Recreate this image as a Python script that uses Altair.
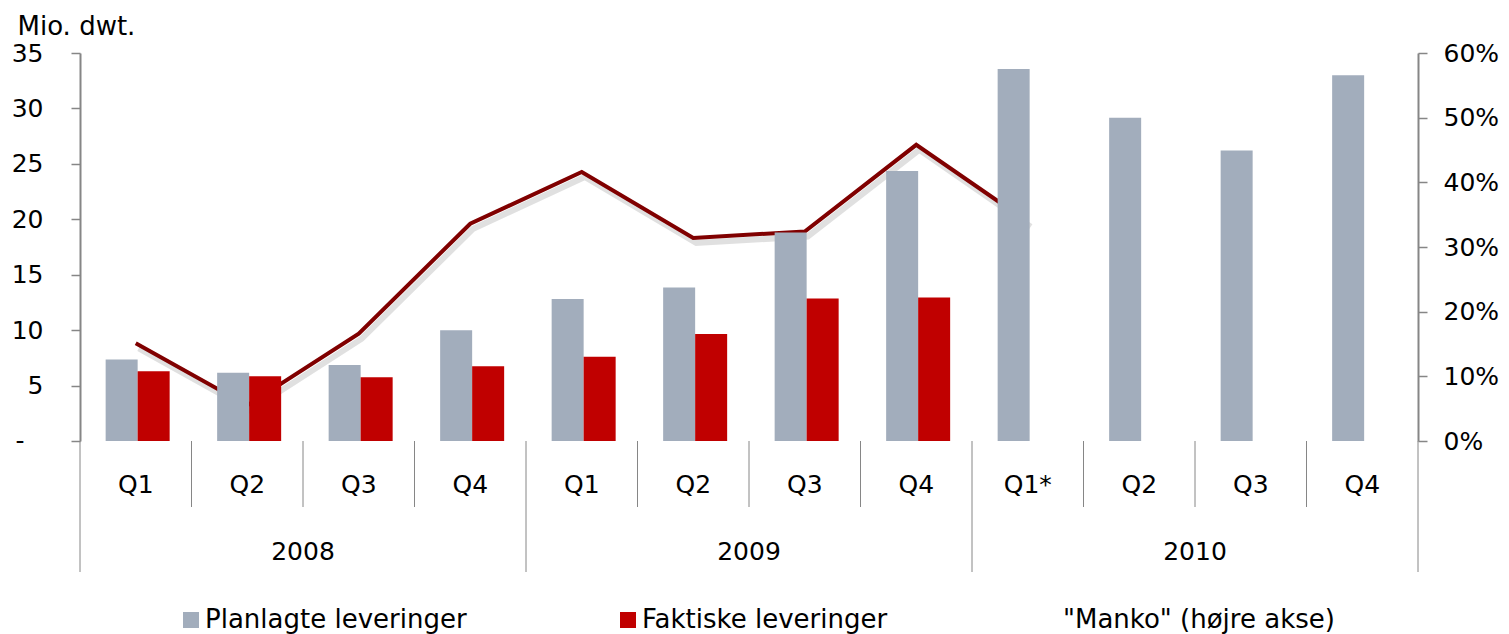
import altair as alt
import pandas as pd

# ---- data ----
quarters = ["Q1", "Q2", "Q3", "Q4", "Q1", "Q2", "Q3", "Q4", "Q1*", "Q2", "Q3", "Q4"]
years = ["2008", "2009", "2010"]
planned = [7.35, 6.15, 6.85, 10.0, 12.8, 13.85, 18.8, 24.35, 33.55, 29.15, 26.2, 33.0]
actual = [6.3, 5.85, 5.75, 6.75, 7.6, 9.65, 12.85, 12.95]
manko_pct = [15.1, 5.5, 16.6, 33.6, 41.6, 31.4, 32.4, 45.8, 33.9]
zero_label = ["-"]

S_PLAN = "Planlagte leveringer"
S_ACT = "Faktiske leveringer"
S_MANKO = '"Manko" (højre akse)'

GREY = "#A2ADBC"
RED = "#C00000"
LINE = "#800000"
AXIS = "#868686"
FONT = "DejaVu Sans"

W, H = 1338, 388

bars_rows = [{"idx": i, "series": S_PLAN, "value": v} for i, v in enumerate(planned)]
bars_rows += [{"idx": i, "series": S_ACT, "value": v} for i, v in enumerate(actual)]
bars_df = pd.DataFrame(bars_rows)

line_df = pd.DataFrame({"idx": list(range(len(manko_pct))),
                        "manko": [m / 100 for m in manko_pct]})

qlab_df = pd.DataFrame({"idx": list(range(12)), "q": quarters})
year_df = pd.DataFrame({"idx": [1, 5, 9], "year": years})
short_sep = pd.DataFrame({"idx": [i for i in range(12) if i % 4 != 0]})
long_sep = pd.DataFrame({"idx": [0, 4, 8]})
end_sep = pd.DataFrame({"idx": [11]})
zero_df = pd.DataFrame({"label": zero_label})

xscale = alt.Scale(paddingInner=0, paddingOuter=0)
xaxis = alt.Axis(labels=False, ticks=False, title=None, grid=False,
                 domainColor=AXIS, domainWidth=2)


def X(**kw):
    return alt.X("idx:O", scale=xscale, axis=None, **kw)


right_axis = alt.Axis(orient="right", format=".0%", values=[0, 0.1, 0.2, 0.3, 0.4, 0.5, 0.6],
                      title=None, grid=False, domainColor=AXIS, domainWidth=2,
                      tickColor=AXIS, tickWidth=1.5, tickSize=9, labelPadding=16,
                      labelFontSize=25, labelFont=FONT, labelColor="#000")
rscale = alt.Scale(domain=[0, 0.6], nice=False, zero=True)

shadow = alt.Chart(line_df).mark_line(color="#000000", opacity=0.12, strokeWidth=6,
                                      xOffset=3, yOffset=5).encode(
    x=X(), y=alt.Y("manko:Q", scale=rscale, axis=right_axis))
line = alt.Chart(line_df).mark_line(color=LINE, strokeWidth=4).encode(
    x=X(), y=alt.Y("manko:Q", scale=rscale, axis=right_axis))
line_layer = alt.layer(shadow, line)

left_axis = alt.Axis(orient="left", values=[0, 5, 10, 15, 20, 25, 30, 35],
                     labelExpr="datum.value == 0 ? '' : datum.label",
                     title="Mio. dwt.", titleAngle=0, titleAlign="left", titleBaseline="alphabetic",
                     titleX=-63, titleY=-19, titleFontSize=26, titleFont=FONT,
                     titleFontWeight="normal", titleColor="#000",
                     grid=False, domainColor=AXIS, domainWidth=2,
                     tickColor=AXIS, tickWidth=1.5, tickSize=9, labelPadding=28,
                     labelFontSize=25, labelFont=FONT, labelColor="#000")

bars = alt.Chart(bars_df).mark_bar().encode(
    x=alt.X("idx:O", scale=xscale, axis=xaxis),
    xOffset=alt.XOffset("series:N", sort=[S_PLAN, S_ACT],
                        scale=alt.Scale(domain=[S_PLAN, S_ACT], paddingInner=0,
                                        paddingOuter=0.742, align=0.54)),
    y=alt.Y("value:Q", scale=alt.Scale(domain=[0, 35], nice=False), axis=left_axis),
    color=alt.Color("series:N",
                    scale=alt.Scale(domain=[S_PLAN, S_ACT, S_MANKO],
                                    range=[GREY, RED, "#ffffff"]),
                    legend=alt.Legend(orient="none", legendX=98, legendY=554,
                                      direction="horizontal", title=None,
                                      symbolType="square", symbolSize=256,
                                      symbolStrokeWidth=0, labelOffset=1,
                                      columnPadding=148, labelFontSize=26,
                                      labelFont=FONT, labelColor="#000",
                                      labelLimit=600, padding=0)),
)

sep_short = alt.Chart(short_sep).mark_rule(color=AXIS, strokeWidth=1).encode(
    x=X(bandPosition=0), y=alt.value(H), y2=alt.value(H + 66))
sep_long = alt.Chart(long_sep).mark_rule(color=AXIS, strokeWidth=1).encode(
    x=X(bandPosition=0), y=alt.value(H), y2=alt.value(H + 131))
sep_end = alt.Chart(end_sep).mark_rule(color=AXIS, strokeWidth=1).encode(
    x=X(bandPosition=1), y=alt.value(H), y2=alt.value(H + 131))

qlabels = alt.Chart(qlab_df).mark_text(font=FONT, fontSize=25, color="#000",
                                       baseline="middle", align="center").encode(
    x=X(), y=alt.value(H + 44), text="q:N")
ylabels = alt.Chart(year_df).mark_text(font=FONT, fontSize=25, color="#000",
                                       baseline="middle", align="center").encode(
    x=X(bandPosition=1), y=alt.value(H + 111), text="year:N")

# accounting-style "-" for the zero tick of the left axis
zero_txt = alt.Chart(zero_df).mark_text(font=FONT, fontSize=25, color="#000",
                                        baseline="middle", align="center").encode(
    x=alt.value(-60), y=alt.value(H), text="label:N")

chart = alt.layer(line_layer, bars, sep_short, sep_long, sep_end, qlabels, ylabels,
                  zero_txt).resolve_scale(
    y="independent"
).properties(
    width=W, height=H,
    autosize=alt.AutoSizeParams(type="none"),
    padding={"left": 72, "top": 45, "right": 83, "bottom": 193},
).configure(font=FONT).configure_view(stroke="transparent", strokeWidth=0)

chart.save("out.html", embed_options={"renderer": "svg", "actions": False})
